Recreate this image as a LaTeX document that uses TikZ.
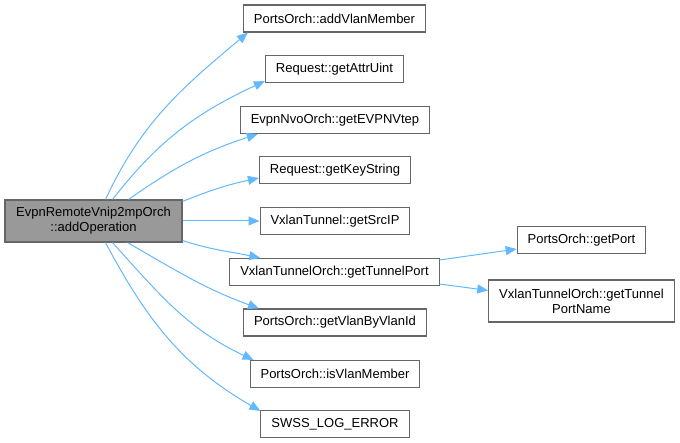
\documentclass[tikz,border=0pt]{standalone}
\usepackage{fontspec}
\setmainfont{Liberation Sans}
\usetikzlibrary{arrows.meta}
\definecolor{callblue}{HTML}{63B8FF}
\definecolor{boxgray}{HTML}{666666}
\definecolor{rootgray}{HTML}{999999}

\begin{document}
\begin{tikzpicture}[x=1pt, y=-1pt,
  fn/.style={draw=boxgray, line width=1.1pt, fill=white, font=\fontsize{13}{15}\selectfont,
    inner xsep=10.5pt, inner ysep=0pt, minimum height=27pt},
  rootfn/.style={fn, fill=rootgray, minimum width=177pt, minimum height=42pt, align=center},
  call/.style={draw=callblue, line width=1pt, -{Triangle[length=11pt,width=9pt]}}]

\useasboundingbox (0,0) rectangle (680,443);

% Caller
\node[rootfn] (op) at (93.5,221) {EvpnRemoteVnip2mpOrch\\::addOperation};

% Callees
\node[fn] (addmember) at (334.5,18.5) {PortsOrch::addVlanMember};
\node[fn] (attruint) at (334.5,69) {Request::getAttrUint};
\node[fn] (evpnvtep) at (335,120) {EvpnNvoOrch::getEVPNVtep};
\node[fn] (keystring) at (335,170) {Request::getKeyString};
\node[fn] (srcip) at (335,221) {VxlanTunnel::getSrcIP};
\node[fn] (tunnelport) at (334.5,272) {VxlanTunnelOrch::getTunnelPort};
\node[fn] (vlanbyid) at (335,322.5) {PortsOrch::getVlanByVlanId};
\node[fn] (ismember) at (335,374) {PortsOrch::isVlanMember};
\node[fn] (logerror) at (335,424) {SWSS\_LOG\_ERROR};

% Second level
\node[fn] (getport) at (581.5,240) {PortsOrch::getPort};
\node[fn, align=center, minimum height=42pt] (portname) at (581.5,301) {VxlanTunnelOrch::getTunnel\\PortName};

% Calls
\draw[call] ([xshift=12pt]op.north) to[out=65,in=220] ([xshift=5pt]addmember.south west);
\draw[call] ([xshift=19pt]op.north) to[out=52,in=205] ([yshift=2pt]attruint.south west);
\draw[call] ([xshift=35pt]op.north) to[out=35,in=198] ([xshift=18pt]evpnvtep.south west);
\draw[call] ([yshift=-2pt]op.north east) to[out=22,in=192] ([yshift=6pt]keystring.south west);
\draw[call] (op.east) -- (srcip.west);
\draw[call] ([yshift=2pt]op.south east) to[out=-18,in=168] ([xshift=31pt]tunnelport.north west);
\draw[call] ([xshift=34pt]op.south) to[out=-30,in=160] ([xshift=16pt]vlanbyid.north west);
\draw[call] ([xshift=19pt]op.south) to[out=-48,in=155] ([xshift=4pt]ismember.north west);
\draw[call] ([xshift=12pt]op.south) to[out=-62,in=150] ([yshift=-1pt]logerror.north west);
\draw[call] ([yshift=-2pt]tunnelport.north east) -- ([yshift=5pt]getport.south west);
\draw[call] ([yshift=2pt]tunnelport.south east) -- ([yshift=-11pt]portname.north west);

\end{tikzpicture}
\end{document}
